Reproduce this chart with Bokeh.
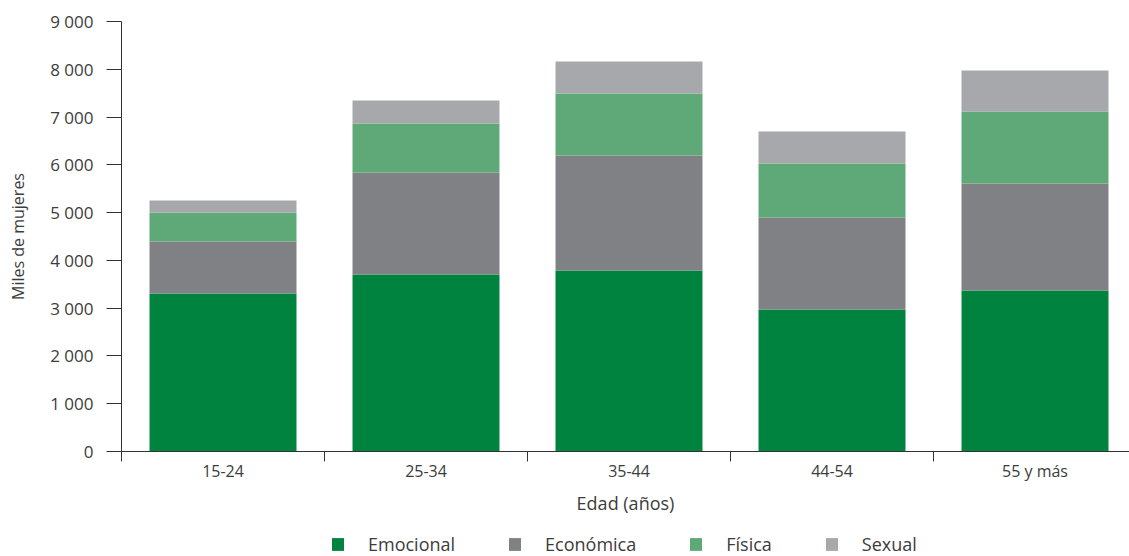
from bokeh.plotting import figure
from bokeh.layouts import column
from bokeh.models import (ColumnDataSource, Range1d, FixedTicker, Legend, LegendItem)
from bokeh.embed import file_html
from bokeh.resources import INLINE

categories = ["15-24", "25-34", "35-44", "44-54", "55 y más"]
emocional = [3307, 3704, 3788, 2972, 3370]
economica = [1088, 2135, 2407, 1925, 2239]
fisica = [607, 1026, 1298, 1131, 1507]
sexual = [251, 481, 669, 669, 858]
series = ["Emocional", "Económica", "Física", "Sexual"]
colors = ["#00833E", "#808184", "#5FA978", "#A7A8AC"]
y_ticks = [0, 1000, 2000, 3000, 4000, 5000, 6000, 7000, 8000, 9000]
y_tick_labels = ["0", "1 000", "2 000", "3 000", "4 000", "5 000", "6 000", "7 000", "8 000", "9 000"]
x_title = "Edad (años)"
y_title = "Miles de mujeres"

FONT = "Open Sans"
TXT = "#3c3c3c"
AX = "#333333"

xs = [i + 0.5 for i in range(len(categories))]
data = dict(x=xs, Emocional=emocional, Económica=economica, Física=fisica, Sexual=sexual)
src = ColumnDataSource(data)

W, H1, H2 = 1129, 532, 24
LEFT = 121
p = figure(width=W, height=H1, output_backend="svg", toolbar_location=None,
           x_range=Range1d(0, (W - LEFT) / 203.0), y_range=Range1d(0, 9000),
           min_border_left=LEFT, min_border_right=0, min_border_top=21, min_border_bottom=H1 - 451)
p.outline_line_color = None
p.grid.grid_line_color = None
p.background_fill_color = None
p.border_fill_color = "white"

p.vbar_stack(series, x="x", width=0.724, source=src, color=colors, line_color=None)

# x axis
xa = p.xaxis[0]
xa.ticker = FixedTicker(ticks=xs, minor_ticks=list(range(len(categories) + 1)))
xa.major_label_overrides = {x: c for x, c in zip(xs, categories)}
xa.major_tick_out = 0
xa.major_tick_in = 0
xa.minor_tick_out = 10
xa.minor_tick_in = 0
xa.minor_tick_line_color = AX
xa.axis_line_color = AX
xa.major_label_standoff = -2
xa.major_label_text_font = FONT
xa.major_label_text_font_size = "16px"
xa.major_label_text_color = TXT
xa.axis_label = x_title
xa.axis_label_text_font = FONT
xa.axis_label_text_font_size = "18px"
xa.axis_label_text_font_style = "normal"
xa.axis_label_text_color = TXT
xa.axis_label_standoff = 6

# y axis
ya = p.yaxis[0]
ya.ticker = FixedTicker(ticks=y_ticks, minor_ticks=[])
ya.major_label_overrides = {t: l for t, l in zip(y_ticks, y_tick_labels)}
ya.major_tick_out = 15
ya.major_tick_in = 0
ya.major_tick_line_color = AX
ya.axis_line_color = AX
ya.major_label_standoff = 13
ya.major_label_text_font = FONT
ya.major_label_text_font_size = "17px"
ya.major_label_text_color = TXT
ya.axis_label = y_title
ya.axis_label_text_font = FONT
ya.axis_label_text_font_size = "16px"
ya.axis_label_text_font_style = "normal"
ya.axis_label_text_color = TXT
ya.axis_label_standoff = 18

# legend row (separate strip below the chart; its frame is aligned with the chart's frame)
lf = figure(width=W, height=H2, output_backend="svg", toolbar_location=None,
            x_axis_type=None, y_axis_type=None, x_range=Range1d(0, 1), y_range=Range1d(0, 1),
            min_border=0)
lf.outline_line_color = None
lf.grid.grid_line_color = None
swatch = ColumnDataSource(dict(x=[5], top=[0]))  # off-range swatch source, only for legend keys
lrs = [lf.vbar(x="x", top="top", width=1, source=swatch, color=c, line_color=None) for c in colors]
legend = Legend(items=[LegendItem(label=s, renderers=[r]) for s, r in zip(series, lrs)],
                orientation="horizontal", location=(330 - LEFT, 0))
legend.glyph_width = 15
legend.glyph_height = 16
legend.label_standoff = 23
legend.spacing = 52
legend.padding = 0
legend.margin = 0
legend.border_line_color = None
legend.background_fill_alpha = 0
legend.label_text_font = FONT
legend.label_text_font_size = "18px"
legend.label_text_color = TXT
lf.add_layout(legend, "center")

layout = column(p, lf, spacing=0)
open("out.html", "w").write(file_html(layout, INLINE))
